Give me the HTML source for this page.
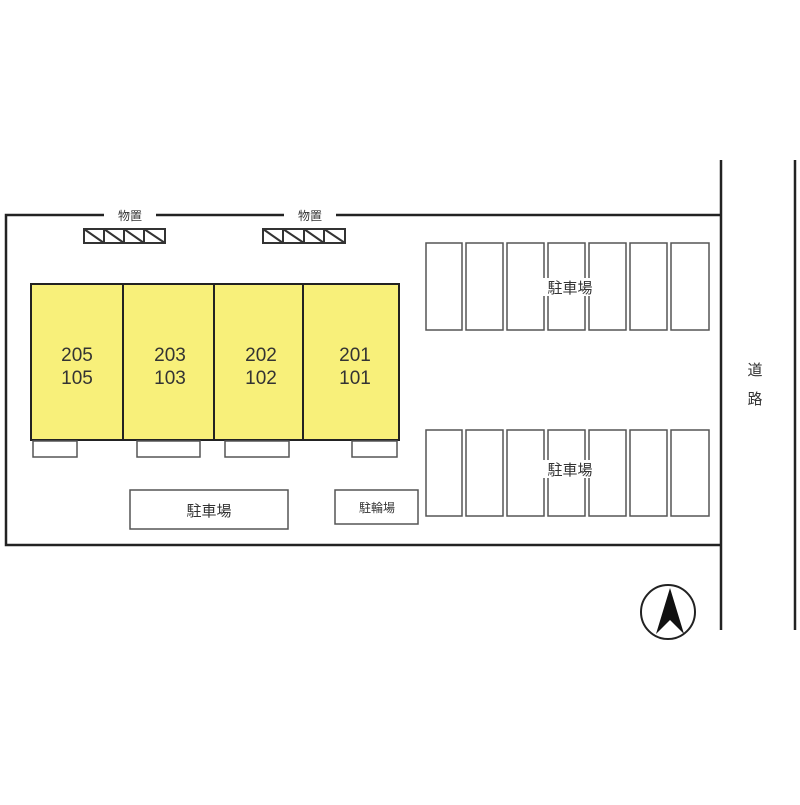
<!DOCTYPE html>
<html><head><meta charset="utf-8"><style>body{margin:0;background:#fff}</style></head><body>
<svg width="800" height="800" xmlns="http://www.w3.org/2000/svg" font-family="'Liberation Sans','Noto Sans CJK JP',sans-serif">
<rect width="800" height="800" fill="#fff"/>
<g stroke="#222" stroke-width="2.5" fill="none">
<polyline points="721,215 6,215 6,545 721,545"/>
<line x1="721" y1="160" x2="721" y2="630"/>
<line x1="795" y1="160" x2="795" y2="630"/>
</g>
<g fill="#fff"><rect x="104" y="208" width="52" height="14"/><rect x="284" y="208" width="52" height="14"/></g>
<g font-size="12" fill="#333" text-anchor="middle"><text x="130" y="220">物置</text><text x="310" y="220">物置</text></g>
<g stroke="#333" stroke-width="2" fill="none">
<rect x="84" y="229" width="81" height="14"/><rect x="263" y="229" width="82" height="14"/>
<path d="M104,229V243M124,229V243M144,229V243M84,229L104,243M104,229L124,243M124,229L144,243M144,229L165,243"/>
<path d="M283,229V243M304,229V243M324,229V243M263,229L283,243M283,229L304,243M304,229L324,243M324,229L345,243"/>
</g>
<g stroke="#222" stroke-width="2" fill="#f8f07a">
<rect x="31" y="284" width="92" height="156"/><rect x="123" y="284" width="91" height="156"/>
<rect x="214" y="284" width="89" height="156"/><rect x="303" y="284" width="96" height="156"/>
</g>
<g stroke="#555" stroke-width="1.5" fill="#fff">
<rect x="33" y="441" width="44" height="16"/><rect x="137" y="441" width="63" height="16"/>
<rect x="225" y="441" width="64" height="16"/><rect x="352" y="441" width="45" height="16"/>
<rect x="130" y="490" width="158" height="39"/><rect x="335" y="490" width="83" height="34"/>
</g>
<g font-size="19" fill="#333" text-anchor="middle">
<text x="77" y="361">205</text><text x="77" y="384">105</text>
<text x="170" y="361">203</text><text x="170" y="384">103</text>
<text x="261" y="361">202</text><text x="261" y="384">102</text>
<text x="355" y="361">201</text><text x="355" y="384">101</text>
</g>
<g stroke="#555" stroke-width="1.5" fill="none">
<rect x="426" y="243" width="36" height="87"/><rect x="466" y="243" width="37" height="87"/><rect x="507" y="243" width="37" height="87"/><rect x="548" y="243" width="37" height="87"/><rect x="589" y="243" width="37" height="87"/><rect x="630" y="243" width="37" height="87"/><rect x="671" y="243" width="38" height="87"/>
<rect x="426" y="430" width="36" height="86"/><rect x="466" y="430" width="37" height="86"/><rect x="507" y="430" width="37" height="86"/><rect x="548" y="430" width="37" height="86"/><rect x="589" y="430" width="37" height="86"/><rect x="630" y="430" width="37" height="86"/><rect x="671" y="430" width="38" height="86"/>
</g>
<g fill="#fff"><rect x="542" y="278" width="56" height="18"/><rect x="542" y="460" width="56" height="18"/></g>
<g font-size="15" fill="#333" text-anchor="middle">
<text x="570" y="293">駐車場</text><text x="570" y="475">駐車場</text>
<text x="209" y="516">駐車場</text>
<text x="755" y="375">道</text><text x="755" y="404">路</text>
</g>
<text x="377" y="512" font-size="12" fill="#333" text-anchor="middle">駐輪場</text>
<circle cx="668" cy="612" r="27" fill="none" stroke="#222" stroke-width="2"/>
<polygon points="670,588 656,634 670,620 684,634" fill="#111"/>
</svg>
</body></html>
